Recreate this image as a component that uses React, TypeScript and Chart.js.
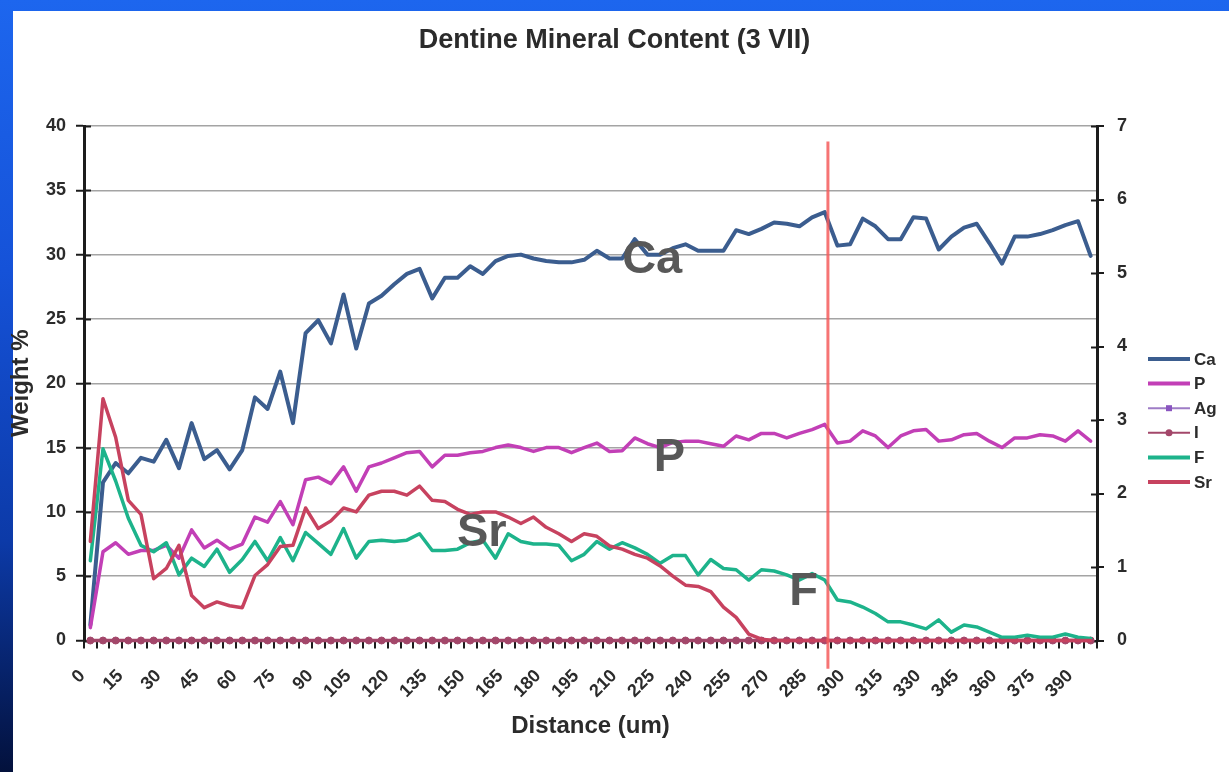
import React, { useEffect, useRef } from "react";
import { Chart, registerables } from "chart.js";

Chart.register(...registerables);

const FONT = '"Liberation Sans", Arial, Helvetica, sans-serif';

const chartTitle = "Dentine Mineral Content (3 VII)";
const xAxisTitle = "Distance (um)";
const yAxisTitle = "Weight %";

const distances = [
  0, 5, 10, 15, 20, 25, 30, 35, 40, 45,
  50, 55, 60, 65, 70, 75, 80, 85, 90, 95,
  100, 105, 110, 115, 120, 125, 130, 135, 140, 145,
  150, 155, 160, 165, 170, 175, 180, 185, 190, 195,
  200, 205, 210, 215, 220, 225, 230, 235, 240, 245,
  250, 255, 260, 265, 270, 275, 280, 285, 290, 295,
  300, 305, 310, 315, 320, 325, 330, 335, 340, 345,
  350, 355, 360, 365, 370, 375, 380, 385, 390, 395,
];

const caValues = [
  1.2, 12.3, 13.8, 13.0, 14.2, 13.9, 15.6, 13.4, 16.9, 14.1,
  14.8, 13.3, 14.8, 18.9, 18.0, 20.9, 16.9, 23.9, 24.9, 23.1,
  26.9, 22.7, 26.2, 26.8, 27.7, 28.5, 28.9, 26.6, 28.2, 28.2,
  29.1, 28.5, 29.5, 29.9, 30.0, 29.7, 29.5, 29.4, 29.4, 29.6,
  30.3, 29.7, 29.7, 31.2, 30.0, 30.0, 30.5, 30.8, 30.3, 30.3,
  30.3, 31.9, 31.6, 32.0, 32.5, 32.4, 32.2, 32.9, 33.3, 30.7,
  30.8, 32.8, 32.2, 31.2, 31.2, 32.9, 32.8, 30.4, 31.4, 32.1,
  32.4, 30.9, 29.3, 31.4, 31.4, 31.6, 31.9, 32.3, 32.6, 29.9,
];

const pValues = [
  1.0, 6.9, 7.6, 6.7, 7.0, 7.0, 7.4, 6.4, 8.6, 7.2,
  7.8, 7.1, 7.5, 9.6, 9.2, 10.8, 9.0, 12.5, 12.7, 12.2,
  13.5, 11.6, 13.5, 13.8, 14.2, 14.6, 14.7, 13.5, 14.4, 14.4,
  14.6, 14.7, 15.0, 15.2, 15.0, 14.7, 15.0, 15.0, 14.6, 15.0,
  15.35, 14.7, 14.75, 15.75, 15.3, 15.0, 15.4, 15.5, 15.5, 15.3,
  15.1, 15.9, 15.6, 16.1, 16.1, 15.75, 16.1, 16.4, 16.8, 15.35,
  15.5, 16.3, 15.9, 15.0, 15.9, 16.3, 16.4, 15.5, 15.6, 16.0,
  16.1, 15.5, 15.0, 15.75, 15.75, 16.0, 15.9, 15.5, 16.3, 15.5,
];

const agValues = [
  0, 0, 0, 0, 0, 0, 0, 0, 0, 0,
  0, 0, 0, 0, 0, 0, 0, 0, 0, 0,
  0, 0, 0, 0, 0, 0, 0, 0, 0, 0,
  0, 0, 0, 0, 0, 0, 0, 0, 0, 0,
  0, 0, 0, 0, 0, 0, 0, 0, 0, 0,
  0, 0, 0, 0, 0, 0, 0, 0, 0, 0,
  0, 0, 0, 0, 0, 0, 0, 0, 0, 0,
  0, 0, 0, 0, 0, 0, 0, 0, 0, 0,
];

const iValues = [
  0, 0, 0, 0, 0, 0, 0, 0, 0, 0,
  0, 0, 0, 0, 0, 0, 0, 0, 0, 0,
  0, 0, 0, 0, 0, 0, 0, 0, 0, 0,
  0, 0, 0, 0, 0, 0, 0, 0, 0, 0,
  0, 0, 0, 0, 0, 0, 0, 0, 0, 0,
  0, 0, 0, 0, 0, 0, 0, 0, 0, 0,
  0, 0, 0, 0, 0, 0, 0, 0, 0, 0,
  0, 0, 0, 0, 0, 0, 0, 0, 0, 0,
];

const fValues = [
  6.2, 14.9, 12.4, 9.5, 7.4, 6.9, 7.6, 5.1, 6.4, 5.75,
  7.1, 5.3, 6.3, 7.7, 6.2, 8.0, 6.2, 8.4, 7.55, 6.7,
  8.7, 6.4, 7.7, 7.8, 7.7, 7.8, 8.3, 7.0, 7.0, 7.1,
  7.6, 7.8, 6.4, 8.3, 7.7, 7.5, 7.5, 7.4, 6.2, 6.7,
  7.7, 7.1, 7.6, 7.2, 6.7, 6.0, 6.6, 6.6, 5.1, 6.3,
  5.6, 5.5, 4.7, 5.5, 5.4, 5.1, 4.7, 5.2, 4.7, 3.15,
  3.0, 2.6, 2.1, 1.45, 1.45, 1.2, 0.9, 1.6, 0.65, 1.2,
  1.05, 0.65, 0.25, 0.25, 0.4, 0.25, 0.25, 0.5, 0.25, 0.15,
];

const srValues = [
  7.7, 18.8, 15.8, 10.9, 9.8, 4.8, 5.6, 7.4, 3.5, 2.55,
  3.0, 2.7, 2.55, 5.05, 5.9, 7.3, 7.4, 10.3, 8.7, 9.3,
  10.3, 10.0, 11.3, 11.6, 11.6, 11.3, 12.0, 10.9, 10.8, 10.2,
  9.8, 10.0, 10.0, 9.6, 9.1, 9.6, 8.8, 8.3, 7.7, 8.3,
  8.1, 7.35, 7.1, 6.7, 6.4, 5.8, 5.0, 4.3, 4.2, 3.8,
  2.6, 1.8, 0.5, 0.1, 0, 0, 0, 0, 0, 0,
  0, 0, 0, 0, 0, 0, 0, 0, 0, 0,
  0, 0, 0, 0, 0, 0, 0, 0, 0, 0,
];

// in-plot element labels, placed in data coordinates (category index, weight %)
const seriesTags = [
  { text: "Ca", index: 42.0, value: 28.6 },
  { text: "P", index: 44.5, value: 13.2 },
  { text: "Sr", index: 28.95, value: 7.35 },
  { text: "F", index: 55.2, value: 2.76 },
];

// vertical marker line (category index position, from/to weight %)
const markerLine = { index: 58.25, from: 38.8, to: -2.2 };

const AXIS_COLOR = "#1c1c1c";
const TEXT_COLOR = "#2b2b2b";

const crossTicksPlugin = {
  id: "crossTicks",
  beforeDatasetsDraw(chart: any) {
    const { ctx, chartArea, scales } = chart;
    ctx.save();
    ctx.strokeStyle = AXIS_COLOR;
    ctx.lineWidth = 2;
    const ys = scales.y;
    ys.ticks.forEach((_t: any, i: number) => {
      const py = Math.round(ys.getPixelForTick(i)) + 0.5;
      ctx.beginPath();
      ctx.moveTo(chartArea.left, py);
      ctx.lineTo(chartArea.left + 7, py);
      ctx.stroke();
    });
    const y1 = scales.y1;
    y1.ticks.forEach((_t: any, i: number) => {
      const py = Math.round(y1.getPixelForTick(i)) + 0.5;
      ctx.beginPath();
      ctx.moveTo(chartArea.right - 6, py);
      ctx.lineTo(chartArea.right, py);
      ctx.stroke();
    });
    ctx.restore();
  },
};

const overlayPlugin = {
  id: "overlay",
  afterDatasetsDraw(chart: any) {
    const { ctx, scales } = chart;
    const xs = scales.x;
    const ys = scales.y;
    ctx.save();
    // marker line
    const mx = xs.getPixelForValue(markerLine.index);
    ctx.strokeStyle = "rgba(244, 92, 92, 0.85)";
    ctx.lineWidth = 3;
    ctx.beginPath();
    ctx.moveTo(mx, ys.getPixelForValue(markerLine.from));
    ctx.lineTo(mx, ys.getPixelForValue(markerLine.to));
    ctx.stroke();
    // element tags
    ctx.fillStyle = "#585858";
    ctx.font = `bold 47px ${FONT}`;
    ctx.textAlign = "left";
    ctx.textBaseline = "alphabetic";
    seriesTags.forEach((t) => {
      ctx.fillText(t.text, xs.getPixelForValue(t.index), ys.getPixelForValue(t.value));
    });
    ctx.restore();
  },
};

const LEGEND_X = 1148;
const LEGEND_Y0 = 359;
const LEGEND_STEP = 24.6;
const LEGEND_LINE = 42;

const sideLegendPlugin = {
  id: "sideLegend",
  afterDraw(chart: any) {
    const { ctx } = chart;
    ctx.save();
    chart.data.datasets.forEach((ds: any, i: number) => {
      const y = LEGEND_Y0 + i * LEGEND_STEP;
      ctx.strokeStyle = ds.borderColor;
      ctx.lineWidth = ds.pointRadius > 0 ? 2 : 4;
      ctx.lineCap = "butt";
      ctx.beginPath();
      ctx.moveTo(LEGEND_X, y);
      ctx.lineTo(LEGEND_X + LEGEND_LINE, y);
      ctx.stroke();
      const cx = LEGEND_X + LEGEND_LINE / 2;
      if (ds.pointStyle === "circle") {
        ctx.fillStyle = ds.pointBackgroundColor;
        ctx.beginPath();
        ctx.arc(cx, y, 3.5, 0, Math.PI * 2);
        ctx.fill();
      } else if (ds.pointStyle === "crossRot") {
        ctx.fillStyle = ds.pointBorderColor;
        ctx.fillRect(cx - 3, y - 3, 6, 6);
      }
      ctx.fillStyle = TEXT_COLOR;
      ctx.font = `bold 17px ${FONT}`;
      ctx.textAlign = "left";
      ctx.textBaseline = "middle";
      ctx.fillText(ds.label, LEGEND_X + LEGEND_LINE + 4, y + 1);
    });
    ctx.restore();
  },
};

export default function App() {
  const canvasRef = useRef<HTMLCanvasElement | null>(null);

  useEffect(() => {
    const canvas = canvasRef.current;
    if (!canvas) return;
    Chart.defaults.font.family = FONT;
    const tickFont = { family: FONT, size: 18, weight: "bold" as const };
    const titleFont = { family: FONT, size: 24, weight: "bold" as const };

    const lineBase = {
      pointRadius: 0,
      tension: 0,
      borderJoinStyle: "round" as const,
      borderCapStyle: "round" as const,
      clip: false as const,
    };

    const chart = new Chart(canvas, {
      type: "line",
      data: {
        labels: distances.map((d) => String(d)),
        datasets: [
          { ...lineBase, label: "Ca", data: caValues, borderColor: "#3B5D8F", borderWidth: 4, yAxisID: "y", order: 5 },
          { ...lineBase, label: "P", data: pValues, borderColor: "#C23FB6", borderWidth: 3.5, yAxisID: "y", order: 4 },
          {
            ...lineBase,
            label: "Ag",
            data: agValues,
            borderColor: "#9E7CC6",
            borderWidth: 2,
            pointStyle: "crossRot",
            pointRadius: 3.5,
            pointBorderColor: "#8A55C0",
            pointBackgroundColor: "#8A55C0",
            pointBorderWidth: 1.5,
            yAxisID: "y1",
            order: 3,
          },
          {
            ...lineBase,
            label: "I",
            data: iValues,
            borderColor: "#A3476A",
            borderWidth: 3.5,
            pointStyle: "circle",
            pointRadius: 3.5,
            pointBorderColor: "#A3476A",
            pointBackgroundColor: "#A3476A",
            pointBorderWidth: 1,
            yAxisID: "y1",
            order: 2,
          },
          { ...lineBase, label: "F", data: fValues, borderColor: "#1DB38B", borderWidth: 3.5, yAxisID: "y", order: 1 },
          { ...lineBase, label: "Sr", data: srValues, borderColor: "#C7425F", borderWidth: 3.5, yAxisID: "y", order: 0 },
        ] as any,
      },
      options: {
        responsive: false,
        maintainAspectRatio: false,
        animation: false,
        devicePixelRatio: 1,
        events: [],
        layout: { padding: { left: 0, right: 0, top: 11, bottom: 6 } },
        plugins: {
          legend: { display: false },
          tooltip: { enabled: false },
          title: {
            display: true,
            text: chartTitle,
            color: TEXT_COLOR,
            font: { family: FONT, size: 27, weight: "bold" },
            padding: { top: 13, bottom: 69.6 },
          },
        },
        scales: {
          x: {
            type: "category",
            offset: true,
            grid: {
              display: true,
              drawOnChartArea: false,
              drawTicks: true,
              tickLength: 8,
              offset: true,
              color: AXIS_COLOR,
              lineWidth: 2,
            },
            border: { display: true, color: AXIS_COLOR, width: 2 },
            ticks: {
              autoSkip: false,
              maxRotation: 45,
              minRotation: 45,
              padding: 17,
              labelOffset: -8,
              color: TEXT_COLOR,
              font: tickFont,
              callback: function (this: any, value: any, index: number) {
                return index % 3 === 0 ? this.getLabelForValue(value) : "";
              },
            },
            title: {
              display: true,
              text: xAxisTitle,
              color: TEXT_COLOR,
              font: titleFont,
              padding: { top: 0, bottom: 25.6 },
            },
            afterFit: (s: any) => {
              s.height = 125.5;
            },
          },
          y: {
            type: "linear",
            position: "left",
            min: 0,
            max: 40,
            ticks: { stepSize: 5, padding: 10, color: TEXT_COLOR, font: tickFont },
            grid: {
              color: "#a4a4a4",
              lineWidth: 1.5,
              drawTicks: true,
              tickLength: 8,
              tickColor: AXIS_COLOR,
              tickWidth: 2,
            },
            border: { display: true, color: AXIS_COLOR, width: 3 },
            title: {
              display: true,
              text: yAxisTitle,
              color: TEXT_COLOR,
              font: titleFont,
              padding: { top: 7, bottom: 0 },
            },
            afterFit: (s: any) => {
              s.width = 84;
            },
          },
          y1: {
            type: "linear",
            position: "right",
            min: 0,
            max: 7,
            ticks: { stepSize: 1, padding: 13, color: TEXT_COLOR, font: tickFont },
            grid: {
              drawOnChartArea: false,
              drawTicks: true,
              tickLength: 7,
              color: AXIS_COLOR,
              lineWidth: 2,
            },
            border: { display: true, color: AXIS_COLOR, width: 3 },
            afterFit: (s: any) => {
              s.width = 132;
            },
          },
        },
      } as any,
      plugins: [crossTicksPlugin, overlayPlugin, sideLegendPlugin],
    });

    return () => chart.destroy();
  }, []);

  return (
    <div
      style={{
        position: "fixed",
        left: 0,
        top: 0,
        width: 1229,
        height: 772,
        overflow: "hidden",
        background:
          "linear-gradient(180deg, #1d66ee 0%, #1552d8 35%, #0c3aa8 70%, #03113c 100%)",
      }}
    >
      <div
        style={{
          position: "absolute",
          left: 13,
          top: 11,
          right: 0,
          bottom: 0,
          background: "#ffffff",
        }}
      />
      <canvas
        ref={canvasRef}
        width={1229}
        height={772}
        style={{ position: "absolute", left: 0, top: 0, width: 1229, height: 772 }}
      />
    </div>
  );
}
